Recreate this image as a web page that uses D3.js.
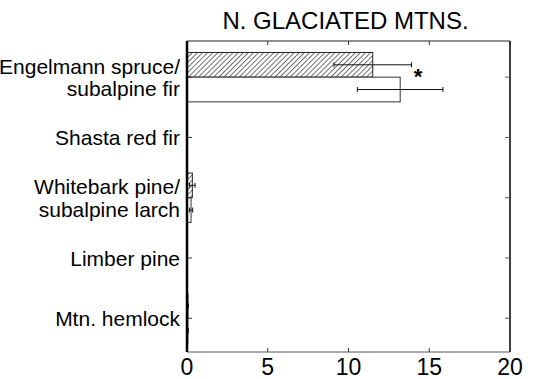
<!DOCTYPE html>
<html>
<head>
<meta charset="utf-8">
<script src="https://cdn.jsdelivr.net/npm/d3@7"></script>
<style>
  body { margin: 0; background: #fff; }
  text { font-family: "Liberation Sans", Arial, sans-serif; }
</style>
</head>
<body>
<div id="chart"></div>
<script>
// Chart data
var categories = ["Engelmann spruce/|subalpine fir", "Shasta red fir", "Whitebark pine/|subalpine larch", "Limber pine", "Mtn. hemlock"];
var hatchedMeans = [11.5, 0, 0.33, 0, 0.06];
var hatchedErr = [2.4, 0, 0.17, 0, 0.03];
var openMeans = [13.2, 0, 0.25, 0, 0.05];
var openErr = [2.65, 0, 0.1, 0, 0.03];
var xTicks = [0, 5, 10, 15, 20];
var title = "N. GLACIATED MTNS.";

var width = 535, height = 379;
var plotLeft = 187, plotRight = 510, plotTop = 41, plotBottom = 352;
var barW = 0.41;

var svg = d3.select("#chart").append("svg")
    .attr("width", width)
    .attr("height", height);

// hatch pattern for the first series
var pat = svg.append("defs").append("pattern")
    .attr("id", "hatch")
    .attr("patternUnits", "userSpaceOnUse")
    .attr("width", 3.6)
    .attr("height", 3.6)
    .attr("patternTransform", "rotate(45)");
pat.append("rect").attr("width", 3.6).attr("height", 3.6).attr("fill", "#fff");
pat.append("line")
    .attr("x1", 0).attr("y1", 0).attr("x2", 0).attr("y2", 3.6)
    .attr("stroke", "#000").attr("stroke-width", 1.1);

var x = d3.scaleLinear().domain([0, 20]).range([plotLeft, plotRight]);
var y = d3.scaleLinear().domain([0.4, 5.56]).range([plotTop, plotBottom]);

// bars
function drawBars(means, offset, fill, stroke) {
    svg.append("g").selectAll("rect")
        .data(means)
        .enter().append("rect")
        .attr("x", x(0))
        .attr("y", (d, i) => y(i + 1 + offset))
        .attr("width", d => x(d) - x(0))
        .attr("height", y(barW) - y(0))
        .attr("fill", fill)
        .attr("stroke", stroke)
        .attr("stroke-width", 1);
}
drawBars(hatchedMeans, -barW, "url(#hatch)", "#222");
drawBars(openMeans, 0, "#fff", "#333");

// error bars
function drawErr(means, errs, offset) {
    var g = svg.append("g").attr("stroke", "#111").attr("stroke-width", 1);
    means.forEach(function(m, i) {
        if (errs[i] === 0) return;
        var cy = y(i + 1 + offset);
        var x0 = x(m - errs[i]), x1 = x(m + errs[i]);
        g.append("line").attr("x1", x0).attr("x2", x1).attr("y1", cy).attr("y2", cy);
        [x0, x1].forEach(function(cx) {
            g.append("line").attr("x1", cx).attr("x2", cx).attr("y1", cy - 2.5).attr("y2", cy + 2.5);
        });
    });
}
drawErr(hatchedMeans, hatchedErr, -barW / 2);
drawErr(openMeans, openErr, barW / 2);

// significance star
svg.append("text")
    .attr("x", x(14.3))
    .attr("y", y(1) + 7)
    .attr("text-anchor", "middle")
    .style("font-size", "22px")
    .style("font-weight", "bold")
    .text("*");

// frame
svg.append("line").attr("x1", plotLeft).attr("x2", plotRight).attr("y1", plotTop).attr("y2", plotTop)
    .attr("stroke", "#222").attr("stroke-width", 1);
svg.append("line").attr("x1", plotRight).attr("x2", plotRight).attr("y1", plotTop).attr("y2", plotBottom)
    .attr("stroke", "#000").attr("stroke-width", 1.5);
svg.append("line").attr("x1", plotLeft).attr("x2", plotRight).attr("y1", plotBottom).attr("y2", plotBottom)
    .attr("stroke", "#555").attr("stroke-width", 1.2);

// x ticks, inside on top and bottom
xTicks.forEach(function(t) {
    svg.append("line").attr("x1", x(t)).attr("x2", x(t)).attr("y1", plotBottom).attr("y2", plotBottom - 4)
        .attr("stroke", "#333");
    svg.append("line").attr("x1", x(t)).attr("x2", x(t)).attr("y1", plotTop).attr("y2", plotTop + 4)
        .attr("stroke", "#333");
    svg.append("text")
        .attr("x", x(t))
        .attr("y", 375)
        .attr("text-anchor", "middle")
        .style("font-size", "23px")
        .text(t);
});

// y ticks, inside on left and right
categories.forEach(function(c, i) {
    var cy = y(i + 1);
    svg.append("line").attr("x1", plotLeft).attr("x2", plotLeft + 5).attr("y1", cy).attr("y2", cy)
        .attr("stroke", "#333");
    svg.append("line").attr("x1", plotRight).attr("x2", plotRight - 5).attr("y1", cy).attr("y2", cy)
        .attr("stroke", "#555");
    var lines = c.split("|");
    var t = svg.append("text")
        .attr("x", 180)
        .attr("text-anchor", "end")
        .style("font-size", "21px");
    lines.forEach(function(l, j) {
        t.append("tspan")
            .attr("x", 180)
            .attr("y", cy + 8 + (j - (lines.length - 1) / 2) * 22.5)
            .text(l);
    });
});

// left axis line (heavy)
svg.append("line").attr("x1", plotLeft).attr("x2", plotLeft).attr("y1", plotTop).attr("y2", plotBottom)
    .attr("stroke", "#000").attr("stroke-width", 2.5);

// title
svg.append("text")
    .attr("x", (plotLeft + plotRight) / 2 - 3)
    .attr("y", 29)
    .attr("text-anchor", "middle")
    .style("font-size", "24px")
    .text(title);
</script>
</body>
</html>
